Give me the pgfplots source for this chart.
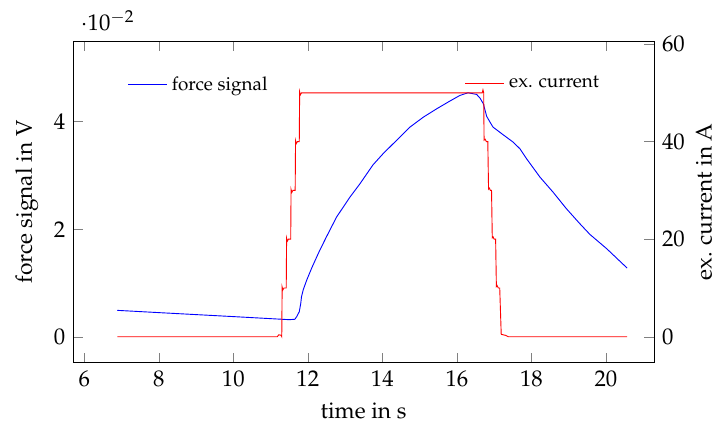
\documentclass[border=0pt]{standalone}
\usepackage[T1]{fontenc}
\usepackage{mathpazo}
\usepackage{pgfplots}
\pgfplotsset{compat=1.18}

\begin{document}
\begin{tikzpicture}
\begin{axis}[
    scale only axis,
    width=255.5pt, height=141.5pt,
    xmin=5.705, xmax=21.29,
    ymin=-0.00477, ymax=0.05497,
    xtick={6,8,...,20},
    ytick={0,0.02,0.04},
    axis y line*=left,
    xlabel={time in s},
    ylabel={force signal in V},
    legend style={at={(0.081,0.92)}, anchor=north west, draw=none, fill=none,
        font=\fontsize{8.3}{10}\selectfont},
]
\addplot[blue, no marks] coordinates {
(6.885,0.00496) (8,0.00454) (9,0.00417) (10,0.00380) (11,0.00342)
(11.5,0.00323) (11.65,0.00330) (11.70,0.00377) (11.77,0.0047)
(11.81,0.00626) (11.83,0.00748) (11.88,0.00886) (11.97,0.01058)
(12.10,0.01276) (12.24,0.01491) (12.32,0.01611) (12.50,0.01863)
(12.77,0.02228) (13.13,0.02600) (13.40,0.02849) (13.75,0.03200)
(14.02,0.03406) (14.38,0.03653) (14.74,0.03900) (15.10,0.04085)
(15.46,0.04241) (15.81,0.04383) (16.08,0.04488) (16.30,0.04538)
(16.53,0.04507) (16.62,0.04440) (16.71,0.04334) (16.80,0.04100)
(16.90,0.03980) (16.97,0.03900) (17.24,0.03759) (17.51,0.03621)
(17.69,0.03499) (17.87,0.03313) (18.23,0.02971) (18.58,0.02693)
(18.94,0.02384) (19.30,0.02106) (19.57,0.01907) (20.02,0.01642)
(20.57,0.01281)
};
\legend{force signal}
\end{axis}
\begin{axis}[
    scale only axis,
    width=255.5pt, height=141.5pt,
    xmin=5.705, xmax=21.29,
    ymin=-5.33, ymax=60.6,
    ytick={0,20,40,60},
    axis y line*=right,
    axis x line=none,
    ylabel={ex. current in A},
    ylabel shift=-2pt,
    legend style={at={(0.662,0.92)}, anchor=north west, draw=none, fill=none,
        font=\fontsize{8.3}{10}\selectfont},
]
\addplot[red, no marks] coordinates {
(6.885,0) (11.18,0) (11.22,0.4) (11.28,0.3) (11.30,0)
(11.31,10.2) (11.33,9.6) (11.36,10) (11.42,10)
(11.43,20.2) (11.45,19.6) (11.48,20) (11.54,20)
(11.55,30.2) (11.57,29.6) (11.60,30) (11.66,30)
(11.67,40.2) (11.69,39.6) (11.72,40) (11.77,40)
(11.78,50.2) (11.80,49.6) (11.83,50) (16.68,50)
(16.70,50.6) (16.72,50) (16.73,40.3) (16.76,40.5) (16.79,40) (16.83,40)
(16.85,30.3) (16.87,30.5) (16.90,30) (16.93,30)
(16.95,20.3) (16.97,20.5) (17.00,20) (17.04,20)
(17.06,10.3) (17.08,10.5) (17.11,10) (17.15,10)
(17.19,0.5) (17.24,0.4) (17.30,0.3) (17.38,0) (20.57,0)
};
\legend{ex. current}
\end{axis}
\path (current axis.south west) ++(-32.25pt,-26.5pt) rectangle ++(316.8pt,186.1pt);
\end{tikzpicture}
\end{document}
